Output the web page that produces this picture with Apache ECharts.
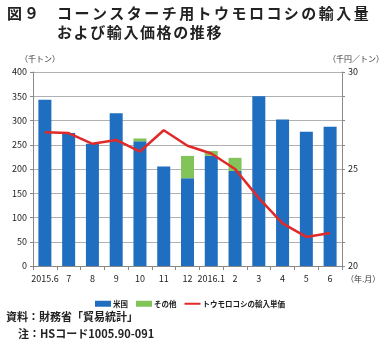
<!DOCTYPE html>
<html>
<head>
<meta charset="utf-8">
<script src="https://cdn.jsdelivr.net/npm/echarts@6/dist/echarts.min.js"></script>
<style>
  html, body { margin: 0; padding: 0; background: #fff; }
  #chart { width: 380px; height: 346px; }
</style>
</head>
<body>
<div id="chart"></div>
<script>
// 年月ごとの輸入量（千トン）と輸入単価（千円／トン）
const months = ['2015.6', '7', '8', '9', '10', '11', '12', '2016.1', '2', '3', '4', '5', '6'];
const usVolume = [343, 274, 252, 315, 257, 205, 181, 227, 196, 350, 302, 277, 287];
const otherVolume = [0, 0, 0, 0, 6, 0, 46, 10, 27, 0, 0, 0, 0];
const unitPrice = [26.9, 26.85, 26.3, 26.5, 25.9, 27.0, 26.2, 25.8, 25.0, 23.5, 22.2, 21.5, 21.7];
const leftTicks = [0, 400, 50];
const rightTicks = [20, 30, 1.25];

const FONT = '"Noto Sans CJK JP", sans-serif';
const TITLE_FONT = 'bold 15px ' + FONT;

// 字間を広めに取った見出しを一文字ずつ配置する
function spacedText(str, x0, y, advance) {
  return Array.from(str).map((ch, i) => ({
    type: 'text',
    x: x0 + i * advance,
    y: y,
    style: { text: ch, font: TITLE_FONT, fill: '#222', verticalAlign: 'middle' }
  }));
}

const chart = echarts.init(document.getElementById('chart'), null, { renderer: 'canvas' });

chart.setOption({
  animation: false,
  textStyle: { fontFamily: FONT },
  grid: { left: 33, right: 38, top: 72, bottom: 80 },
  graphic: [
    ...spacedText('図９', 7, 13, 17),
    ...spacedText('コーンスターチ用トウモロコシの輸入量', 57, 13, 17.45),
    ...spacedText('および輸入価格の推移', 57, 32, 16.6),
    { type: 'text', left: 20, top: 55, style: { text: '（千トン）', font: '8px ' + FONT, fill: '#333' } },
    { type: 'text', left: 328, top: 55, style: { text: '（千円／トン）', font: '8px ' + FONT, fill: '#333' } },
    { type: 'text', left: 346, top: 275, style: { text: '（年.月）', font: '8px ' + FONT, fill: '#333' } },
    { type: 'text', left: 6, top: 311, style: { text: '資料：財務省「貿易統計」', font: 'bold 11px ' + FONT, fill: '#222' } },
    { type: 'text', left: 18, top: 328, style: { text: '注：HSコード1005.90-091', font: 'bold 11px ' + FONT, fill: '#222' } }
  ],
  legend: {
    top: 295,
    left: 'center',
    itemGap: 8,
    itemWidth: 16,
    itemHeight: 6,
    textStyle: { fontSize: 7.5, fontWeight: 'bold', fontFamily: FONT, color: '#222', padding: [0, 0, 0, -3] },
    data: [
      { name: '米国', icon: 'rect' },
      { name: 'その他', icon: 'rect' },
      { name: 'トウモロコシの輸入単価', icon: 'path://M0,0H16V2H0Z' }
    ]
  },
  xAxis: {
    type: 'category',
    data: months,
    axisLine: { lineStyle: { color: '#888' } },
    axisTick: { show: true, length: 4, lineStyle: { color: '#888' } },
    axisLabel: { fontSize: 9, color: '#222', margin: 8, interval: 0 }
  },
  yAxis: [
    {
      type: 'value',
      min: leftTicks[0], max: leftTicks[1], interval: leftTicks[2],
      axisLine: { show: true, lineStyle: { color: '#888' } },
      axisTick: { show: true, length: 3, lineStyle: { color: '#888' } },
      axisLabel: { fontSize: 9, color: '#222', margin: 6 },
      splitLine: { lineStyle: { color: '#b0b0b0', width: 1 } }
    },
    {
      type: 'value',
      min: rightTicks[0], max: rightTicks[1], interval: rightTicks[2],
      position: 'right',
      axisLine: { show: true, lineStyle: { color: '#888' } },
      axisTick: { show: true, length: 3, lineStyle: { color: '#888' } },
      axisLabel: {
        fontSize: 9, color: '#222', margin: 6,
        formatter: v => (v % 5 === 0 ? String(v) : '')
      },
      splitLine: { show: false }
    }
  ],
  series: [
    {
      name: '米国',
      type: 'bar',
      stack: 'vol',
      barWidth: 13,
      data: usVolume,
      itemStyle: { color: '#1f6ebf' }
    },
    {
      name: 'その他',
      type: 'bar',
      stack: 'vol',
      barWidth: 13,
      data: otherVolume,
      itemStyle: { color: '#82c35a' }
    },
    {
      name: 'トウモロコシの輸入単価',
      type: 'line',
      yAxisIndex: 1,
      data: unitPrice,
      symbol: 'none',
      lineStyle: { color: '#e02a2a', width: 2.5 },
      itemStyle: { color: '#e02a2a' }
    }
  ]
});
</script>
</body>
</html>
